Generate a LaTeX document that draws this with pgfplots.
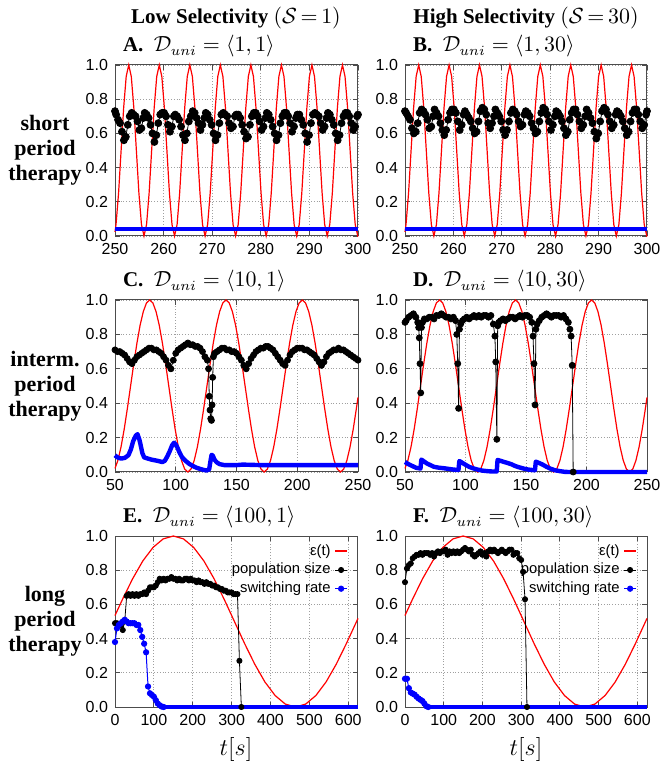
\documentclass[border=0pt]{standalone}
\usepackage{fontspec}
\setmainfont{Liberation Serif}
\newfontfamily\tickfont{Liberation Sans}
\usepackage{pgfplots}
\pgfplotsset{compat=1.18}
\usepackage{pgfplotstable}

% epsilon(t) = (1+sin(t/D))/2, sampled values
\pgfplotstableread{
t e
250.000 0.024
250.210 0.067
250.734 0.25
251.257 0.5
251.781 0.75
252.304 0.933
252.828 1
253.352 0.933
253.875 0.75
254.399 0.5
254.922 0.25
255.446 0.067
255.970 0
256.493 0.067
257.017 0.25
257.540 0.5
258.064 0.75
258.587 0.933
259.111 1
259.635 0.933
260.158 0.75
260.682 0.5
261.205 0.25
261.729 0.067
262.253 0
262.776 0.067
263.300 0.25
263.823 0.5
264.347 0.75
264.870 0.933
265.394 1
265.918 0.933
266.441 0.75
266.965 0.5
267.488 0.25
268.012 0.067
268.536 0
269.060 0.067
269.583 0.25
270.107 0.5
270.631 0.75
271.154 0.933
271.678 1
272.201 0.933
272.725 0.75
273.248 0.5
273.772 0.25
274.296 0.067
274.819 0
275.343 0.067
275.866 0.25
276.390 0.5
276.914 0.75
277.437 0.933
277.961 1
278.484 0.933
279.008 0.75
279.531 0.5
280.055 0.25
280.579 0.067
281.102 0
281.626 0.067
282.149 0.25
282.673 0.5
283.197 0.75
283.720 0.933
284.244 1
284.767 0.933
285.291 0.75
285.814 0.5
286.338 0.25
286.862 0.067
287.385 0
287.909 0.067
288.432 0.25
288.956 0.5
289.480 0.75
290.003 0.933
290.527 1
291.050 0.933
291.574 0.75
292.097 0.5
292.621 0.25
293.145 0.067
293.668 0
294.192 0.067
294.715 0.25
295.239 0.5
295.763 0.75
296.286 0.933
296.810 1
297.333 0.933
297.857 0.75
298.380 0.5
298.904 0.25
299.428 0.067
299.952 0
300.000 0.001
}\redshort

\pgfplotstableread{
t e
50.000 0.021
52.360 0.067
54.978 0.146
57.596 0.25
60.214 0.371
62.832 0.5
65.450 0.629
68.068 0.75
70.686 0.854
73.304 0.933
75.922 0.983
78.540 1
81.158 0.983
83.776 0.933
86.394 0.854
89.012 0.75
91.630 0.629
94.248 0.5
96.866 0.371
99.484 0.25
102.102 0.146
104.720 0.067
107.338 0.017
109.956 0
112.574 0.017
115.192 0.067
117.810 0.146
120.428 0.25
123.046 0.371
125.664 0.5
128.282 0.629
130.900 0.75
133.518 0.854
136.136 0.933
138.754 0.983
141.372 1
143.990 0.983
146.608 0.933
149.226 0.854
151.844 0.75
154.462 0.629
157.080 0.5
159.698 0.371
162.316 0.25
164.934 0.146
167.552 0.067
170.170 0.017
172.788 0
175.406 0.017
178.024 0.067
180.642 0.146
183.260 0.25
185.878 0.371
188.496 0.5
191.114 0.629
193.732 0.75
196.350 0.854
198.968 0.933
201.586 0.983
204.204 1
206.822 0.983
209.440 0.933
212.058 0.854
214.676 0.75
217.294 0.629
219.911 0.5
222.529 0.371
225.147 0.25
227.765 0.146
230.383 0.067
233.001 0.017
235.619 0
238.237 0.017
240.855 0.067
243.473 0.146
246.091 0.25
248.709 0.371
250.000 0.434
}\redmid

\pgfplotstableread{
t e
0 0.535
19.180 0.629
45.360 0.75
71.540 0.854
97.720 0.933
123.900 0.983
150.080 1
176.260 0.983
202.440 0.933
228.619 0.854
254.799 0.75
280.979 0.629
307.159 0.5
333.339 0.371
359.519 0.25
385.699 0.146
411.879 0.067
438.059 0.017
464.239 0
490.419 0.017
516.599 0.067
542.779 0.146
568.959 0.25
595.139 0.371
621.319 0.5
625 0.518
}\redlong

\pgfplotsset{
  panel/.style={
    scale only axis, anchor=south west,
    width=121.5pt, height=85.5pt,
    ymin=0, ymax=1, ytick={0,0.2,0.4,0.6,0.8,1},
    yticklabel style={/pgf/number format/fixed, /pgf/number format/fixed zerofill, /pgf/number format/precision=1},
    grid=major,
    major grid style={densely dotted, gray!75, line width=0.4pt},
    axis line style={black!70, line width=0.5pt},
    tick style={black!70, line width=0.4pt},
    major tick length=2.5pt,
    tick label style={font=\tickfont\fontsize{8}{9}\selectfont},
    /pgf/number format/assume math mode=true,
    clip=false,
  },
  eps/.style={red, line width=0.6pt, no marks},
  pop/.style={black, line width=0.4pt, mark=*, mark size=1.5pt},
  sw/.style={blue, line width=2.2pt, no marks, line join=round},
  swd/.style={blue, line width=0.5pt, mark=*, mark size=1.3pt, mark options={fill=blue}},
  leg/.style={
    legend style={at={(rel axis cs:1,1)}, anchor=north east, xshift=-4pt, yshift=-1pt,
      draw=none, fill=none, inner sep=1pt, row sep=-1.5pt,
      font=\tickfont\fontsize{7.4}{8.5}\selectfont,
      /tikz/every even column/.append style={column sep=5pt}},
    legend cell align=right,
    legend plot pos=right,
    legend image code/.code={\draw[mark repeat=2, mark phase=2, ##1] plot coordinates {(0cm,0cm) (0.1cm,0cm) (0.2cm,0cm)};},
  },
  epsleg/.style={legend image code/.code={\draw[red, line width=0.8pt] (0cm,0cm) -- (0.2cm,0cm);}},
}

\begin{document}
\begin{tikzpicture}
\useasboundingbox (0,0) rectangle (331.5pt,383.5pt);

% ---------- A ----------
\begin{axis}[panel, at={(57.5pt,265.5pt)}, xmin=250, xmax=300, xtick={250,260,...,300}]
\addplot[eps] table[x=t,y=e] {\redshort};
\addplot[pop, mark size=1.75pt] coordinates {
(250.00,0.73) (250.23,0.71) (250.63,0.68) (251.03,0.66) (251.43,0.61) (251.83,0.56) (252.23,0.58) (252.63,0.65) (253.03,0.70) (253.43,0.72) (253.83,0.71) (254.23,0.70) (254.63,0.67) (255.03,0.62) (255.43,0.63) (255.83,0.69)
(256.11,0.72) (256.51,0.71) (256.91,0.69) (257.31,0.65) (257.71,0.60) (258.11,0.55) (258.51,0.59) (258.91,0.66) (259.31,0.71) (259.71,0.72) (260.11,0.72) (260.51,0.70) (260.91,0.65) (261.31,0.61) (261.71,0.64) (262.11,0.70)
(262.39,0.71) (262.79,0.70) (263.19,0.68) (263.59,0.64) (263.99,0.59) (264.39,0.56) (264.79,0.60) (265.19,0.67) (265.59,0.70) (265.99,0.73) (266.39,0.72) (266.79,0.69) (267.19,0.66) (267.59,0.62) (267.99,0.65) (268.39,0.69)
(268.68,0.72) (269.08,0.71) (269.48,0.68) (269.88,0.65) (270.28,0.60) (270.68,0.56) (271.08,0.59) (271.48,0.66) (271.88,0.71) (272.28,0.72) (272.68,0.71) (273.08,0.70) (273.48,0.66) (273.88,0.63) (274.28,0.64) (274.68,0.70)
(274.96,0.71) (275.36,0.71) (275.76,0.69) (276.16,0.65) (276.56,0.61) (276.96,0.57) (277.36,0.58) (277.76,0.65) (278.16,0.70) (278.56,0.72) (278.96,0.72) (279.36,0.70) (279.76,0.67) (280.16,0.62) (280.56,0.64) (280.96,0.69)
(281.24,0.72) (281.64,0.71) (282.04,0.68) (282.44,0.64) (282.84,0.60) (283.24,0.56) (283.64,0.59) (284.04,0.66) (284.44,0.70) (284.84,0.72) (285.24,0.72) (285.64,0.70) (286.04,0.66) (286.44,0.61) (286.84,0.64) (287.24,0.69)
(287.53,0.71) (287.93,0.71) (288.33,0.68) (288.73,0.65) (289.13,0.60) (289.53,0.55) (289.93,0.59) (290.33,0.66) (290.73,0.71) (291.13,0.72) (291.53,0.71) (291.93,0.70) (292.33,0.66) (292.73,0.62) (293.13,0.64) (293.53,0.69)
(293.81,0.72) (294.21,0.71) (294.61,0.68) (295.01,0.65) (295.41,0.60) (295.81,0.56) (296.21,0.59) (296.61,0.66) (297.01,0.70) (297.41,0.72) (297.81,0.72) (298.21,0.70) (298.61,0.66) (299.01,0.62) (299.41,0.64) (299.81,0.70) (300.00,0.71)};
\addplot[sw] coordinates {(250,0.04) (300,0.04)};
\end{axis}

% ---------- B ----------
\begin{axis}[panel, at={(202.5pt,265.5pt)}, width=121pt, xmin=250, xmax=300, xtick={250,260,...,300}]
\addplot[eps] table[x=t,y=e] {\redshort};
\addplot[pop, mark size=1.75pt] coordinates {
(250.00,0.73) (250.23,0.72) (250.63,0.70) (251.03,0.68) (251.43,0.63) (251.83,0.60) (252.23,0.61) (252.63,0.66) (253.03,0.72) (253.43,0.74) (253.83,0.73) (254.23,0.71) (254.63,0.68) (255.03,0.63) (255.43,0.64) (255.83,0.70)
(256.11,0.74) (256.51,0.72) (256.91,0.70) (257.31,0.66) (257.71,0.62) (258.11,0.59) (258.51,0.62) (258.91,0.68) (259.31,0.72) (259.71,0.74) (260.11,0.74) (260.51,0.72) (260.91,0.67) (261.31,0.62) (261.71,0.65) (262.11,0.71)
(262.39,0.73) (262.79,0.71) (263.19,0.69) (263.59,0.67) (263.99,0.63) (264.39,0.60) (264.79,0.61) (265.19,0.67) (265.59,0.73) (265.99,0.75) (266.39,0.74) (266.79,0.71) (267.19,0.66) (267.59,0.63) (267.99,0.66) (268.39,0.70)
(268.68,0.74) (269.08,0.72) (269.48,0.70) (269.88,0.67) (270.28,0.62) (270.68,0.59) (271.08,0.62) (271.48,0.67) (271.88,0.72) (272.28,0.74) (272.68,0.73) (273.08,0.71) (273.48,0.67) (273.88,0.64) (274.28,0.65) (274.68,0.71)
(274.96,0.73) (275.36,0.72) (275.76,0.70) (276.16,0.66) (276.56,0.63) (276.96,0.60) (277.36,0.61) (277.76,0.67) (278.16,0.72) (278.56,0.75) (278.96,0.74) (279.36,0.71) (279.76,0.67) (280.16,0.62) (280.56,0.65) (280.96,0.70)
(281.24,0.73) (281.64,0.72) (282.04,0.70) (282.44,0.67) (282.84,0.63) (283.24,0.59) (283.64,0.61) (284.04,0.68) (284.44,0.72) (284.84,0.74) (285.24,0.74) (285.64,0.71) (286.04,0.67) (286.44,0.63) (286.84,0.65) (287.24,0.70)
(287.53,0.74) (287.93,0.72) (288.33,0.69) (288.73,0.66) (289.13,0.61) (289.53,0.57) (289.93,0.60) (290.33,0.67) (290.73,0.73) (291.13,0.75) (291.53,0.74) (291.93,0.71) (292.33,0.67) (292.73,0.63) (293.13,0.65) (293.53,0.71)
(293.81,0.73) (294.21,0.72) (294.61,0.70) (295.01,0.67) (295.41,0.63) (295.81,0.59) (296.21,0.61) (296.61,0.67) (297.01,0.72) (297.41,0.74) (297.81,0.74) (298.21,0.71) (298.61,0.67) (299.01,0.63) (299.41,0.65) (299.81,0.71) (300.00,0.73)};
\addplot[sw] coordinates {(250,0.04) (300,0.04)};
\end{axis}

% ---------- C ----------
\begin{axis}[panel, at={(57.5pt,147.5pt)}, height=86pt, xmin=50, xmax=250, xtick={50,100,...,250}]
\addplot[eps] table[x=t,y=e] {\redmid};
\addplot[pop] coordinates {
(50,0.71) (52,0.70) (54,0.70) (56,0.69) (58,0.68) (60,0.66) (62,0.64) (64,0.63) (66,0.65) (68,0.67) (70,0.68) (72,0.69) (74,0.70) (76,0.71) (78,0.72) (80,0.72) (82,0.71) (84,0.71) (86,0.70) (88,0.69) (90,0.67) (92,0.65) (94,0.62) (96,0.60) (98,0.65) (100,0.69)
(102,0.71) (104,0.72) (106,0.73) (108,0.74) (110,0.75) (112,0.74) (114,0.74) (116,0.73) (118,0.73) (120,0.72) (122,0.70) (124,0.67) (126,0.65) (127,0.60) (127.6,0.44) (128.2,0.36) (128.8,0.31) (129.4,0.30) (129.9,0.39) (130.4,0.55) (131,0.67) (132,0.69)
(134,0.70) (136,0.71) (138,0.72) (140,0.72) (142,0.71) (144,0.71) (146,0.70) (148,0.70) (150,0.69) (152,0.67) (154,0.65) (156,0.62) (158,0.60) (160,0.63) (162,0.66) (164,0.68) (166,0.70) (168,0.71) (170,0.72) (172,0.72) (174,0.73) (176,0.73) (178,0.72)
(180,0.71) (182,0.69) (184,0.67) (186,0.65) (188,0.63) (190,0.62) (192,0.65) (194,0.68) (196,0.70) (198,0.71) (200,0.72) (202,0.72) (204,0.72) (206,0.71) (208,0.71) (210,0.70) (212,0.69) (214,0.68) (216,0.66) (218,0.64) (220,0.62) (222,0.64)
(224,0.67) (226,0.69) (228,0.70) (230,0.71) (232,0.71) (234,0.72) (236,0.71) (238,0.71) (240,0.70) (242,0.69) (244,0.68) (246,0.67) (248,0.66) (250,0.65)};
\addplot[sw] coordinates {
(50,0.097) (52,0.085) (55,0.078) (58,0.082) (61,0.097) (63,0.13) (65,0.18) (67,0.21) (68.5,0.22) (70,0.19) (71,0.16) (72.5,0.11) (74,0.085) (77,0.078) (80,0.072) (85,0.065) (89,0.058) (91,0.065) (93,0.09) (95,0.12) (97,0.155) (98.6,0.17) (100,0.16) (101.5,0.14) (103,0.115) (105,0.088) (108,0.065) (111,0.048) (114,0.035) (117,0.025) (120,0.018) (123,0.012) (125.5,0.009) (127.5,0.015) (128.5,0.06) (129.5,0.10) (130.5,0.095) (132,0.07) (134,0.055) (136,0.046) (140,0.04) (150,0.04) (155,0.043) (160,0.042) (170,0.04) (250,0.04)};
\end{axis}

% ---------- D ----------
\begin{axis}[panel, at={(202.5pt,147.5pt)}, width=121pt, height=86pt, xmin=50, xmax=250, xtick={50,100,...,250}]
\addplot[eps] table[x=t,y=e] {\redmid};
\addplot[pop] coordinates {
(50,0.87) (51,0.88) (53,0.90) (55,0.91) (57,0.92) (59,0.90) (60.5,0.87) (61.3,0.84) (61.8,0.78) (62.4,0.63) (63.0,0.46) (63.6,0.84) (64.5,0.87) (66,0.89) (68,0.89) (70,0.90) (72,0.90) (74,0.89) (76,0.91) (78,0.91) (80,0.92) (82,0.91) (84,0.90) (86,0.90) (88,0.89) (90,0.90) (91.8,0.88)
(92.8,0.80) (93.6,0.63) (94.3,0.37) (95.0,0.83) (96,0.86) (97.5,0.88) (99,0.89) (101,0.90) (103,0.89) (105,0.90) (107,0.91) (109,0.90) (111,0.91) (113,0.90) (115,0.91) (117,0.91) (119,0.90) (121,0.91) (123,0.86) (124.3,0.79) (125.0,0.64) (125.9,0.19) (126.6,0.85)
(127.5,0.87) (129,0.88) (131,0.89) (133,0.88) (135,0.89) (137,0.90) (139,0.90) (141,0.89) (143,0.90) (145,0.91) (147,0.90) (149,0.91) (151,0.91) (153,0.90) (154.8,0.87) (155.8,0.79) (156.6,0.63) (157.5,0.39) (158.2,0.83) (159.2,0.86)
(161,0.88) (163,0.90) (165,0.91) (167,0.92) (169,0.91) (171,0.90) (173,0.91) (175,0.91) (177,0.91) (179,0.90) (181,0.91) (183,0.89) (185,0.87) (186.3,0.83) (187.3,0.79) (188.2,0.62) (189,0)};
\addplot[sw] coordinates {
(50,0.058) (53,0.045) (56,0.035) (59,0.025) (62.8,0.02) (63.5,0.072) (65,0.065) (68,0.05) (71,0.04) (74,0.03) (78,0.025) (82,0.022) (86,0.018) (90,0.014) (94.2,0.012) (94.9,0.064) (97,0.055) (100,0.042) (103,0.03) (106,0.022) (110,0.014) (114,0.008) (118,0.005) (122,0.003) (125.8,0.003) (126.5,0.07) (129,0.065) (132,0.058) (135,0.052) (138,0.045) (141,0.035) (144,0.028) (148,0.02) (152,0.014) (157.4,0.01) (158.1,0.06) (161,0.052) (164,0.042) (167,0.03) (170,0.02) (174,0.01) (178,0.005) (182,0.001) (185,0) (250,0)};
\end{axis}

% ---------- E ----------
\begin{axis}[panel, leg, at={(57.5pt,30pt)}, xmin=0, xmax=625, xtick={0,100,...,600}]
\addplot[eps, epsleg] table[x=t,y=e] {\redlong};
\addplot[pop, mark size=1.3pt] coordinates {
(0,0.49) (5,0.49) (10,0.48) (15,0.48) (20,0.45) (25,0.50) (30,0.65) (35,0.66) (40,0.65) (45,0.66) (50,0.65) (55,0.66) (60,0.65) (65,0.66) (70,0.66) (75,0.67) (80,0.66) (85,0.68) (90,0.70) (95,0.70) (100,0.70) (105,0.71) (110,0.73) (115,0.75) (120,0.74) (125,0.75) (130,0.74) (135,0.75) (140,0.75) (145,0.76) (150,0.75) (155,0.75)
(160,0.74) (165,0.75) (170,0.74) (175,0.74) (180,0.75) (185,0.75) (190,0.74) (195,0.75) (200,0.74) (205,0.74) (210,0.73) (215,0.74) (220,0.73) (225,0.73) (230,0.72) (235,0.73) (240,0.72) (245,0.72) (250,0.71) (255,0.71) (260,0.70) (265,0.70) (270,0.69) (275,0.69) (280,0.68) (285,0.68) (290,0.67) (295,0.67) (300,0.67) (305,0.66) (310,0.66) (315,0.66) (320,0.27) (325,0)};
\addplot[swd] coordinates {
(0,0.38) (5,0.46) (10,0.48) (15,0.49) (20,0.50) (25,0.51) (30,0.50) (35,0.49) (40,0.49) (45,0.49) (50,0.49) (55,0.48) (60,0.48) (65,0.45) (70,0.41) (75,0.37) (80,0.32) (85,0.12) (90,0.08) (95,0.07) (100,0.06) (105,0.04) (110,0.02) (115,0.01) (120,0.003) (125,0)};
\addplot[sw, line width=2pt, forget plot] coordinates {(120,0) (625,0)};
\legend{ε(t), population size, switching rate}
\end{axis}

% ---------- F ----------
\begin{axis}[panel, leg, at={(202.5pt,30pt)}, width=121pt, xmin=0, xmax=625, xtick={0,100,...,600}]
\addplot[eps, epsleg] table[x=t,y=e] {\redlong};
\addplot[pop, mark size=1.3pt] coordinates {
(0,0.73) (5,0.81) (10,0.83) (15,0.84) (20,0.87) (25,0.88) (30,0.89) (35,0.89) (40,0.90) (45,0.89) (50,0.90) (55,0.90) (60,0.90) (65,0.89) (70,0.90) (75,0.88) (80,0.90) (85,0.91) (90,0.90) (95,0.91) (100,0.91) (105,0.92) (110,0.89) (115,0.91) (120,0.90) (125,0.91) (130,0.90) (135,0.91) (140,0.90) (145,0.91) (150,0.92) (155,0.93)
(160,0.92) (165,0.91) (170,0.92) (175,0.89) (180,0.88) (185,0.89) (190,0.90) (195,0.91) (200,0.89) (205,0.90) (210,0.88) (215,0.91) (220,0.92) (225,0.91) (230,0.92) (235,0.91) (240,0.90) (245,0.91) (250,0.92) (255,0.91) (260,0.90) (265,0.91) (270,0.92) (275,0.92) (280,0.89) (285,0.90) (290,0.90) (295,0.87) (300,0.86) (305,0.79) (310,0.63) (315,0)};
\addplot[swd] coordinates {
(0,0.165) (5,0.165) (10,0.11) (15,0.085) (20,0.078) (25,0.072) (30,0.06) (35,0.05) (40,0.042) (45,0.035) (50,0.02) (55,0.005) (60,0)};
\addplot[sw, line width=2pt, forget plot] coordinates {(60,0) (625,0)};
\legend{ε(t), population size, switching rate}
\end{axis}

% ---------- texts ----------
\node[anchor=base, font=\fontsize{10.5}{12}\selectfont] at (118pt,371.5pt) {\textbf{Low Selectivity} $(\mathcal{S}\,{=}\,1)$};
\node[anchor=base, font=\fontsize{10.5}{12}\selectfont] at (263pt,371.5pt) {\textbf{High Selectivity} $(\mathcal{S}\,{=}\,30)$};

\node[anchor=base west, font=\fontsize{10.5}{12}\selectfont] at (58pt,357.5pt) {\textbf{A.}\hspace{0.5em}$\mathcal{D}_{uni}=\langle 1,1\rangle$};
\node[anchor=base west, font=\fontsize{10.5}{12}\selectfont] at (203pt,357.5pt) {\textbf{B.}\hspace{0.5em}$\mathcal{D}_{uni}=\langle 1,30\rangle$};
\node[anchor=base west, font=\fontsize{10.5}{12}\selectfont] at (58pt,240pt) {\textbf{C.}\hspace{0.5em}$\mathcal{D}_{uni}=\langle 10,1\rangle$};
\node[anchor=base west, font=\fontsize{10.5}{12}\selectfont] at (203pt,240pt) {\textbf{D.}\hspace{0.5em}$\mathcal{D}_{uni}=\langle 10,30\rangle$};
\node[anchor=base west, font=\fontsize{10.5}{12}\selectfont] at (58pt,122pt) {\textbf{E.}\hspace{0.5em}$\mathcal{D}_{uni}=\langle 100,1\rangle$};
\node[anchor=base west, font=\fontsize{10.5}{12}\selectfont] at (203pt,122pt) {\textbf{F.}\hspace{0.5em}$\mathcal{D}_{uni}=\langle 100,30\rangle$};

\node[align=center, font=\bfseries\fontsize{11}{12.5}\selectfont] at (22.5pt,308.5pt) {short\\period\\therapy};
\node[align=center, font=\bfseries\fontsize{11}{12.5}\selectfont] at (22.5pt,190.5pt) {interm.\\period\\therapy};
\node[align=center, font=\bfseries\fontsize{11}{12.5}\selectfont] at (22.5pt,73pt) {long\\period\\therapy};

\node[font=\fontsize{12}{13}\selectfont] at (118pt,8.5pt) {$t[s]$};
\node[font=\fontsize{12}{13}\selectfont] at (263pt,8.5pt) {$t[s]$};
\end{tikzpicture}
\end{document}
